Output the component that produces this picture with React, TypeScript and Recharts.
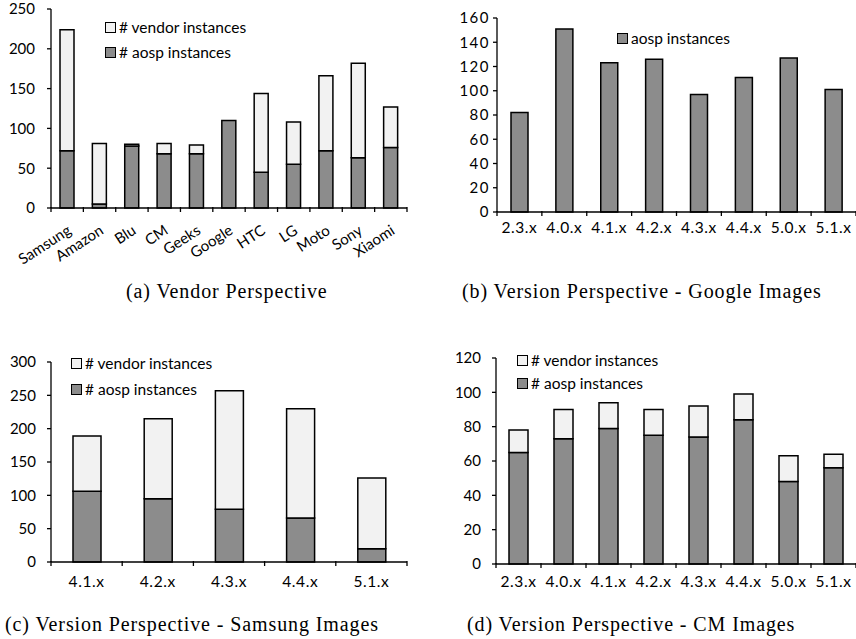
import React from "react"
import { BarChart, Bar, XAxis, YAxis, Legend } from "recharts"

// (a) vendor perspective
const vendors = ["Samsung", "Amazon", "Blu", "CM", "Geeks", "Google", "HTC", "LG", "Moto", "Sony", "Xiaomi"]
const vendorAosp = [72, 5, 78, 68, 68, 110, 45, 55, 72, 63, 76]
const vendorVendor = [152, 76, 2, 13, 11, 0, 99, 53, 94, 119, 51]

// (b) google images
const googleVersions = ["2.3.x", "4.0.x", "4.1.x", "4.2.x", "4.3.x", "4.4.x", "5.0.x", "5.1.x"]
const googleAosp = [82, 151, 123, 126, 97, 111, 127, 101]

// (c) samsung images
const samsungVersions = ["4.1.x", "4.2.x", "4.3.x", "4.4.x", "5.1.x"]
const samsungAosp = [106, 95, 79, 66, 20]
const samsungVendor = [83, 120, 178, 164, 106]

// (d) cm images
const cmVersions = ["2.3.x", "4.0.x", "4.1.x", "4.2.x", "4.3.x", "4.4.x", "5.0.x", "5.1.x"]
const cmAosp = [65, 73, 79, 75, 74, 84, 48, 56]
const cmVendor = [13, 17, 15, 15, 18, 15, 15, 8]

const AOSP_FILL = "#8c8c8c"
const VENDOR_FILL = "#f2f2f2"
const FONT = "Lato, 'Open Sans', sans-serif"
const SERIF = "'Liberation Serif', 'DejaVu Serif', serif"

type Row = { name: string; aosp: number; vendor?: number }

function rows(names: string[], aosp: number[], vendor?: number[]): Row[] {
  return names.map((name, i) => ({ name, aosp: aosp[i], vendor: vendor ? vendor[i] : undefined }))
}

type LegendItem = { label: string; fill: string }

interface PanelProps {
  left: number
  top: number
  width: number
  height: number
  plot: { x: number; y: number; right: number; bottom: number }
  xAxisHeight: number
  data: Row[]
  stacked: boolean
  domain: [number, number]
  ticks: number[]
  barSize: number
  yTickMargin: number
  yFont: number
  ySpacing?: number
  xFont: number
  xSpacing?: number
  angled?: boolean
  labelDy: number
  legend: { x: number; y: number; gap: number; items: LegendItem[] }
}

function Panel(p: PanelProps) {
  const band = (p.plot.right - p.plot.x) / p.data.length

  const renderTick = (props: any) => {
    const { x, y, payload, index } = props
    const off = payload?.offset ?? band / 2
    const last = index === p.data.length - 1
    return (
      <g>
        <line x1={x - off} x2={x - off} y1={y - 1} y2={y + 4} stroke="#000" strokeWidth={1.3} />
        {last && <line x1={x + off} x2={x + off} y1={y - 1} y2={y + 4} stroke="#000" strokeWidth={1.3} />}
        {p.angled ? (
          <text
            x={x + 5}
            y={y + p.labelDy}
            textAnchor="end"
            fontSize={p.xFont}
            fontFamily={FONT}
            fill="#000"
            transform={`rotate(-33 ${x + 5} ${y + p.labelDy})`}
          >
            {payload.value}
          </text>
        ) : (
          <text
            x={x}
            y={y + p.labelDy}
            dy="0.35em"
            textAnchor="middle"
            fontSize={p.xFont}
            letterSpacing={p.xSpacing ?? 0}
            fontFamily={FONT}
            fill="#000"
          >
            {payload.value}
          </text>
        )}
      </g>
    )
  }

  const legendContent = () => (
    <div style={{ fontFamily: FONT, fontSize: 15.5, color: "#000" }}>
      {p.legend.items.map((it) => (
        <div key={it.label} style={{ display: "flex", alignItems: "center", height: p.legend.gap, whiteSpace: "nowrap" }}>
          <span
            style={{
              display: "inline-block",
              width: 9,
              height: 9,
              border: "1.5px solid #000",
              background: it.fill,
              marginRight: 3,
            }}
          />
          {it.label}
        </div>
      ))}
    </div>
  )

  return (
    <div style={{ position: "absolute", left: p.left, top: p.top }}>
      <BarChart
        width={p.width}
        height={p.height}
        data={p.data}
        margin={{
          top: p.plot.y,
          right: p.width - p.plot.right,
          left: 0,
          bottom: p.height - p.plot.bottom - p.xAxisHeight,
        }}
      >
        <XAxis
          dataKey="name"
          height={p.xAxisHeight}
          axisLine={{ stroke: "#000", strokeWidth: 1.3 }}
          tickLine={false}
          tickSize={0}
          tickMargin={0}
          interval={0}
          tick={renderTick}
        />
        <YAxis
          width={p.plot.x}
          domain={p.domain}
          ticks={p.ticks}
          interval={0}
          axisLine={{ stroke: "#000", strokeWidth: 1.3 }}
          tickLine={{ stroke: "#000", strokeWidth: 1.3 }}
          tickSize={4}
          tickMargin={p.yTickMargin}
          tick={{ fontSize: p.yFont, fontFamily: FONT, fill: "#000", letterSpacing: p.ySpacing ?? 0 }}
        />
        <Legend
          layout="vertical"
          align="center"
          verticalAlign="middle"
          content={legendContent}
          wrapperStyle={{ left: p.legend.x, top: p.legend.y - p.legend.gap / 2, width: 220 }}
        />
        <Bar
          dataKey="aosp"
          stackId="s"
          fill={AOSP_FILL}
          stroke="#000"
          strokeWidth={1.5}
          barSize={p.barSize}
          isAnimationActive={false}
        />
        {p.stacked && (
          <Bar
            dataKey="vendor"
            stackId="s"
            fill={VENDOR_FILL}
            stroke="#000"
            strokeWidth={1.5}
            barSize={p.barSize}
            isAnimationActive={false}
          />
        )}
      </BarChart>
    </div>
  )
}

const vendorItems: LegendItem[] = [
  { label: "# vendor instances", fill: VENDOR_FILL },
  { label: "# aosp instances", fill: AOSP_FILL },
]

// captions are placed by their left edge
function Caption({ x, y, text }: { x: number; y: number; text: string }) {
  return (
    <div
      style={{
        position: "absolute",
        left: x,
        top: y - 12,
        fontFamily: SERIF,
        fontSize: 20,
        letterSpacing: 0.9,
        lineHeight: "24px",
        color: "#000",
        whiteSpace: "nowrap",
      }}
    >
      {text}
    </div>
  )
}

export default function App() {
  return (
    <div style={{ position: "absolute", left: 0, top: 0, width: 856, height: 639, background: "#fff", overflow: "hidden" }}>
      <Panel
        left={0}
        top={0}
        width={428}
        height={270}
        plot={{ x: 51, y: 9, right: 407, bottom: 208 }}
        xAxisHeight={60}
        data={rows(vendors, vendorAosp, vendorVendor)}
        stacked
        domain={[0, 250]}
        ticks={[0, 50, 100, 150, 200, 250]}
        barSize={14}
        yTickMargin={12}
        yFont={15}
        xFont={15}
        angled
        labelDy={25}
        legend={{ x: 105, y: 27, gap: 25, items: vendorItems }}
      />
      <Panel
        left={428}
        top={0}
        width={428}
        height={250}
        plot={{ x: 69, y: 18, right: 428, bottom: 212 }}
        xAxisHeight={30}
        data={rows(googleVersions, googleAosp)}
        stacked={false}
        domain={[0, 160]}
        ticks={[0, 20, 40, 60, 80, 100, 120, 140, 160]}
        barSize={17}
        yTickMargin={3}
        yFont={15}
        ySpacing={1.5}
        xFont={15.5}
        xSpacing={0.6}
        labelDy={16}
        legend={{ x: 189, y: 38, gap: 25, items: [{ label: "aosp instances", fill: AOSP_FILL }] }}
      />
      <Panel
        left={0}
        top={310}
        width={428}
        height={290}
        plot={{ x: 51, y: 52, right: 407, bottom: 252 }}
        xAxisHeight={30}
        data={rows(samsungVersions, samsungAosp, samsungVendor)}
        stacked
        domain={[0, 300]}
        ticks={[0, 50, 100, 150, 200, 250, 300]}
        barSize={28}
        yTickMargin={11}
        yFont={15}
        xFont={15.5}
        xSpacing={0.6}
        labelDy={20}
        legend={{ x: 71, y: 53, gap: 26, items: vendorItems }}
      />
      <Panel
        left={428}
        top={310}
        width={428}
        height={290}
        plot={{ x: 68, y: 48, right: 428, bottom: 254 }}
        xAxisHeight={30}
        data={rows(cmVersions, cmAosp, cmVendor)}
        stacked
        domain={[0, 120]}
        ticks={[0, 20, 40, 60, 80, 100, 120]}
        barSize={19}
        yTickMargin={11}
        yFont={15}
        xFont={15.5}
        xSpacing={0.6}
        labelDy={18}
        legend={{ x: 89, y: 50, gap: 23, items: vendorItems }}
      />
      <Caption x={126} y={291} text="(a) Vendor Perspective" />
      <Caption x={462} y={291} text="(b) Version Perspective - Google Images" />
      <Caption x={5} y={624} text="(c) Version Perspective - Samsung Images" />
      <Caption x={467} y={624} text="(d) Version Perspective - CM Images" />
    </div>
  )
}
